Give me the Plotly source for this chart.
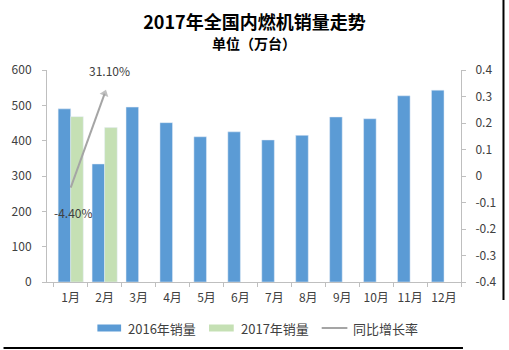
import plotly.graph_objects as go

# Monthly internal-combustion engine sales (10k units)
months = ["1月", "2月", "3月", "4月", "5月", "6月", "7月", "8月", "9月", "10月", "11月", "12月"]
sales_2016 = [490, 334, 495, 451, 411, 425, 402, 415, 467, 462, 527, 543]
sales_2017 = [468, 437, None, None, None, None, None, None, None, None, None, None]
yoy_growth = [-0.044, 0.311]
yoy_months = ["1月", "2月"]

left_ticks = [0, 100, 200, 300, 400, 500, 600]
right_ticks = [-0.4, -0.3, -0.2, -0.1, 0, 0.1, 0.2, 0.3, 0.4]

series_names = ["2016年销量", "2017年销量", "同比增长率"]
blue = "#5B9BD5"
green = "#C5E0B4"
grey_line = "#A5A5A5"
text_col = "#404040"
axis_col = "#BFBFBF"
font_family = "Noto Sans CJK SC, Noto Sans, sans-serif"

# plot area in pixels
W, H = 509, 350
L, R, T, B = 44, 463, 70, 282


def px(x):
    return (x - L) / (R - L)


def py(y):
    return (B - y) / (B - T)


fig = go.Figure()
fig.add_trace(go.Bar(x=months, y=sales_2016, name=series_names[0],
                     marker_color=blue, showlegend=False))
fig.add_trace(go.Bar(x=months, y=sales_2017, name=series_names[1],
                     marker_color=green, showlegend=False))
fig.add_trace(go.Scatter(
    x=yoy_months, y=yoy_growth, name=series_names[2], yaxis="y2",
    mode="lines+markers", showlegend=False,
    line=dict(color=grey_line, width=2),
    marker=dict(symbol="triangle-up", angleref="previous", size=[0, 8],
                color=grey_line, line=dict(width=0)),
))


def fmt(v):
    s = f"{v:.1f}" if v != 0 else "0"
    return s


fig.update_layout(
    width=W, height=H,
    margin=dict(l=L, r=W - R, t=T, b=H - B),
    paper_bgcolor="white", plot_bgcolor="white",
    barmode="group", bargap=0.26, bargroupgap=0,
    font=dict(family=font_family, size=12, color=text_col),
    title=dict(text="<b>2017年全国内燃机销量走势</b>", x=0.5, xanchor="center",
               y=1 - 23 / H, yanchor="middle", yref="container",
               font=dict(size=18, color="#000000", family=font_family)),
    xaxis=dict(showline=True, linecolor=axis_col, linewidth=1,
               ticks="outside", ticklen=4, tickcolor=axis_col,
               tickson="boundaries", ticklabelstandoff=5, tickangle=0,
               tickfont=dict(size=12, color=text_col),
               showgrid=False),
    yaxis=dict(range=[0, 600], tickvals=left_ticks,
               ticktext=[str(v) for v in left_ticks],
               showline=True, linecolor=axis_col, linewidth=1,
               ticks="outside", ticklen=4, tickcolor=axis_col,
               ticklabelstandoff=8,
               showgrid=False, zeroline=False,
               tickfont=dict(size=12, color=text_col)),
    yaxis2=dict(range=[-0.4, 0.4], tickvals=right_ticks,
                ticktext=[fmt(v) for v in right_ticks],
                overlaying="y", side="right",
                showline=True, linecolor=axis_col, linewidth=1,
                ticks="outside", ticklen=4, tickcolor=axis_col,
                ticklabelstandoff=7,
                showgrid=False, zeroline=False,
                tickfont=dict(size=12, color=text_col)),
)

annotations = [
    dict(text="<b>单位（万台）</b>", x=0.5, y=py(43), xref="paper", yref="paper",
         xanchor="center", yanchor="middle", showarrow=False,
         font=dict(size=14, color="#000000")),
]

# value labels for the growth line
label_offsets = [(3, -25), (5, 23)]
for m, v, (dx, dy) in zip(yoy_months, yoy_growth, label_offsets):
    annotations.append(dict(
        text=f"{v * 100:.2f}%", x=m, y=v, xref="x", yref="y2",
        xshift=dx, yshift=dy, showarrow=False,
        font=dict(size=12, color=text_col)))

# legend row
leg_y = 328
shapes = [
    dict(type="rect", xref="paper", yref="paper",
         x0=px(95), x1=px(119), y0=py(324.5), y1=py(331.5),
         fillcolor=blue, line=dict(width=0)),
    dict(type="rect", xref="paper", yref="paper",
         x0=px(208), x1=px(233), y0=py(324.5), y1=py(331.5),
         fillcolor=green, line=dict(width=0)),
    dict(type="line", xref="paper", yref="paper",
         x0=px(322), x1=px(348), y0=py(leg_y), y1=py(leg_y),
         line=dict(color=grey_line, width=2)),
    # frame edges
    dict(type="line", xref="paper", yref="paper",
         x0=px(506), x1=px(506), y0=py(0), y1=py(300),
         line=dict(color="#000000", width=2)),
    dict(type="line", xref="paper", yref="paper",
         x0=px(0), x1=px(465), y0=py(348), y1=py(348),
         line=dict(color="#000000", width=2)),
]
for name, x0 in zip(series_names, [124, 238, 352]):
    annotations.append(dict(
        text=name, x=px(x0), y=py(leg_y), xref="paper", yref="paper",
        xanchor="left", yanchor="middle", showarrow=False,
        font=dict(size=13, color=text_col)))

fig.update_layout(annotations=annotations, shapes=shapes)

fig.write_html("out.html")
